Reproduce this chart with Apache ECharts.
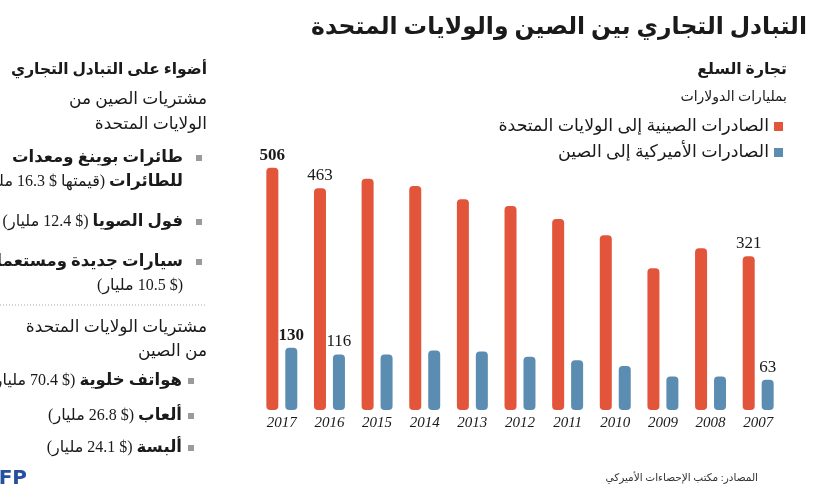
<!DOCTYPE html>
<html>
<head>
<meta charset="utf-8">
<script src="https://cdn.jsdelivr.net/npm/echarts@6/dist/echarts.min.js"></script>
<style>
html,body{margin:0;padding:0;background:#fff;}
#c{width:815px;height:500px;}
</style>
</head>
<body>
<div id="c" dir="rtl"></div>
<script>
const years = ['2017','2016','2015','2014','2013','2012','2011','2010','2009','2008','2007'];
const chinaExports = [506,463,483,468,440,426,399,365,296,338,321];
const usExports = [130,116,116,124,122,111,104,92,70,70,63];
const labeledIdx = [0,1,10];
const seriesNames = ['الصادرات الصينية إلى الولايات المتحدة','الصادرات الأميركية إلى الصين'];

const AR = '"Liberation Serif","DejaVu Sans"';
const RED = '#e2553a', BLUE = '#5b8cb1', TXT = '#1a1a1a';

function mkData(vals){
  return vals.map((v,i)=>{
    if(labeledIdx.indexOf(i) < 0) return v;
    return {value:v, label:{show:true, position:'top', distance:4,
      fontFamily:'"Liberation Serif"', fontSize:17, color:TXT,
      fontWeight: i===0 ? 'bold' : 'normal'}};
  });
}

const chart = echarts.init(document.getElementById('c'), null, {renderer:'canvas'});

const rich = {
  b:{fontFamily:AR, fontSize:16.5, fontWeight:'bold', color:TXT},
  r:{fontFamily:AR, fontSize:16, fontWeight:'normal', color:TXT}
};
function txt(x,y,text,opts){
  return {type:'text', x:x, y:y, style:Object.assign({text:text, align:'right', verticalAlign:'middle',
    fontFamily:AR, fontSize:16, fill:TXT, rich:rich}, opts||{})};
}
function bullet(x,y){
  return {type:'rect', shape:{x:x-3,y:y-3,width:6,height:6}, style:{fill:'#9a9a9a'}};
}

chart.setOption({
  animation:false,
  backgroundColor:'#fff',
  grid:{left:258, right:33, top:161, bottom:90},
  legend:{
    orient:'vertical', right:32, top:118, align:'right', padding:0,
    itemWidth:9, itemHeight:9, itemGap:9, icon:'rect',
    textStyle:{fontFamily:AR, fontSize:17.4, color:TXT},
    data:seriesNames
  },
  xAxis:{type:'category', data:years,
    axisLine:{show:false}, axisTick:{show:false},
    axisLabel:{margin:6, fontFamily:'"Liberation Serif"', fontStyle:'italic', fontSize:15, color:TXT}},
  yAxis:{type:'value', min:0, max:520, show:false, splitLine:{show:false}},
  series:[
    {name:seriesNames[0], type:'bar', data:mkData(chinaExports), barWidth:12, barGap:'58%',
      itemStyle:{color:RED, borderRadius:4}},
    {name:seriesNames[1], type:'bar', data:mkData(usExports), barWidth:12,
      itemStyle:{color:BLUE, borderRadius:4}}
  ],
  graphic:[
    txt(807,28,'التبادل التجاري بين الصين والولايات المتحدة',{fontSize:23.5, fontWeight:'bold', fontFamily:AR}),
    txt(787,70,'تجارة السلع',{fontSize:15.7, fontWeight:'bold'}),
    txt(787,97,'بمليارات الدولارات',{fontSize:14}),
    txt(207,70,'أضواء على التبادل التجاري',{fontSize:15.5, fontWeight:'bold'}),
    txt(207,100,'مشتريات الصين من',{fontSize:17}),
    txt(207,125,'الولايات المتحدة',{fontSize:17}),
    bullet(199,158),
    txt(183,158,'{b|طائرات بوينغ ومعدات}'),
    txt(183,182,'{r| (قيمتها $ 16.3 مليار)}{b|للطائرات}'),
    bullet(199,222),
    txt(183,222,'{r| ($ 12.4 مليار)}{b|فول الصويا}'),
    bullet(199,262),
    txt(183,262,'{b|سيارات جديدة ومستعملة}'),
    txt(183,286,'{r|($ 10.5 مليار)}'),
    {type:'line', shape:{x1:0,y1:305,x2:207,y2:305}, style:{stroke:'#aaa', lineWidth:1, lineDash:[1,2]}},
    txt(207,328,'مشتريات الولايات المتحدة',{fontSize:17}),
    txt(207,352,'من الصين',{fontSize:17}),
    bullet(191,381),
    txt(182,381,'{r| ($ 70.4 مليار)}{b|هواتف خلوية}'),
    bullet(191,416),
    txt(182,416,'{r| ($ 26.8 مليار)}{b|ألعاب}'),
    bullet(191,448),
    txt(182,448,'{r| ($ 24.1 مليار)}{b|ألبسة}'),
    {type:'text', x:27, y:479, style:{text:'AFP', align:'right', verticalAlign:'middle',
      fontFamily:'"DejaVu Sans"', fontSize:20, fontWeight:'bold', fill:'#24509e'}},
    txt(758,478,'المصادر: مكتب الإحصاءات الأميركي',{fontSize:10.5, fill:'#333'})
  ]
});
</script>
</body>
</html>
